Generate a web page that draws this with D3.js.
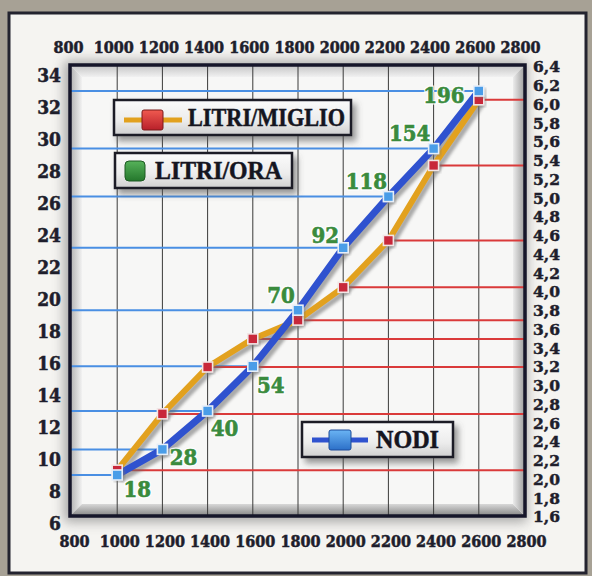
<!DOCTYPE html>
<html><head><meta charset="utf-8">
<script src="https://cdn.jsdelivr.net/npm/d3@7"></script>
<style>
html,body{margin:0;padding:0;background:#a7a195;}
svg{display:block;}
.tick text{font-family:"DejaVu Serif Condensed","DejaVu Serif",serif;font-stretch:condensed;font-weight:bold;fill:#1e1e2c;stroke:#1e1e2c;stroke-width:0.5px;}
.rax .tick text{font-family:"DejaVu Serif",serif;font-stretch:normal;}
</style></head><body>
<svg id="chart" width="592" height="576"></svg>
<script>
// ---- data ----
const rpm = [1000, 1200, 1400, 1600, 1800, 2000, 2200, 2400, 2600];
const nodi = [9.0, 10.6, 13.0, 15.8, 19.3, 23.2, 26.4, 29.4, 33.0];
const litriMiglio = [2.1, 2.7, 3.2, 3.5, 3.7, 4.05, 4.55, 5.35, 6.05];
const litriOra = [18, 28, 40, 54, 70, 92, 118, 154, 196];
const rpmTicks = [800, 1000, 1200, 1400, 1600, 1800, 2000, 2200, 2400, 2600, 2800];
const nodiTicks = [6, 8, 10, 12, 14, 16, 18, 20, 22, 24, 26, 28, 30, 32, 34];
const miglioTicks = [1.6, 1.8, 2.0, 2.2, 2.4, 2.6, 2.8, 3.0, 3.2, 3.4, 3.6, 3.8, 4.0, 4.2, 4.4, 4.6, 4.8, 5.0, 5.2, 5.4, 5.6, 5.8, 6.0, 6.2, 6.4];
const legendLabels = ["LITRI/MIGLIO", "LITRI/ORA", "NODI"];

// ---- layout ----
const oraLabelOffset = [[20,14],[21,8],[17,17],[18,19],[-17,-15],[-18,-13],[-22,-16],[-24,-16],[-35,4]];

const svg = d3.select("#chart");
const defs = svg.append("defs");

const x = d3.scaleLinear().domain([800, 2800]).range([72, 524]);
const yL = d3.scaleLinear().domain([6, 34]).range([523, 75]);
const yR = d3.scaleLinear().domain([1.6, 6.4]).range([517, 67]);

// filters
const f1 = defs.append("filter").attr("id","blur6").attr("x","-20%").attr("y","-20%").attr("width","140%").attr("height","140%");
f1.append("feGaussianBlur").attr("stdDeviation", 6);
const f2 = defs.append("filter").attr("id","blur2").attr("x","-10%").attr("y","-10%").attr("width","120%").attr("height","120%");
f2.append("feGaussianBlur").attr("stdDeviation", 1.6);
const f3 = defs.append("filter").attr("id","drop").attr("x","-20%").attr("y","-30%").attr("width","150%").attr("height","180%");
f3.append("feDropShadow").attr("dx",4).attr("dy",5).attr("stdDeviation",3).attr("flood-color","#555").attr("flood-opacity",0.6);

function lin(id, x1, y1, x2, y2, stops) {
  const g = defs.append("linearGradient").attr("id", id)
    .attr("x1", x1).attr("y1", y1).attr("x2", x2).attr("y2", y2);
  stops.forEach(s => g.append("stop").attr("offset", s[0]).attr("stop-color", s[1]));
}
lin("gTop", 0,0,0,1, [[0,"#c4c4c4"],[1,"#f1f1f1"]]);
lin("gLeft", 0,0,1,0, [[0,"#b0b0b0"],[1,"#f2f2f2"]]);
lin("gBottom", 0,0,0,1, [[0,"#d8d8d8"],[1,"#848484"]]);
lin("gRight", 0,0,1,0, [[0,"#ececec"],[1,"#9a9a9a"]]);
lin("gBox", 0,0,0,1, [[0,"#fbfbfb"],[0.6,"#ececec"],[1,"#cfcfcf"]]);
lin("gRed", 0,0,0,1, [[0,"#f05a50"],[1,"#b8202a"]]);
lin("gGreen", 0,0,0,1, [[0,"#56b25a"],[1,"#24772c"]]);
lin("gBlue", 0,0,0,1, [[0,"#6ab4f4"],[1,"#2c70c8"]]);

// card
svg.append("rect").attr("x", 9).attr("y", 13).attr("width", 577).attr("height", 560)
  .attr("fill", "#f5f4f1").attr("stroke", "#23232f").attr("stroke-width", 3);

// frame geometry
const fx0 = x(800) - 2, fx1 = x(2800) + 1, fy0 = yR(6.4) - 2, fy1 = yR(1.6) - 1;
const b = 12;

// outer shadow around frame
svg.append("rect").attr("x", fx0 - 6).attr("y", fy0 - 4).attr("width", fx1 - fx0 + 8).attr("height", fy1 - fy0 + 10)
  .attr("fill", "#8d8d8d").attr("opacity", 0.75).attr("filter", "url(#blur6)");

// plot background
svg.append("rect").attr("x", fx0).attr("y", fy0).attr("width", fx1 - fx0).attr("height", fy1 - fy0).attr("fill", "#f7f7f6");

// bevel
const poly = (pts, fill) => svg.append("polygon").attr("points", pts.map(p => p.join(",")).join(" ")).attr("fill", fill);
poly([[fx0,fy0],[fx1,fy0],[fx1-b,fy0+b],[fx0+b,fy0+b]], "url(#gTop)");
poly([[fx0,fy0],[fx0+b,fy0+b],[fx0+b,fy1-b],[fx0,fy1]], "url(#gLeft)");
poly([[fx0,fy1],[fx0+b,fy1-b],[fx1-b,fy1-b],[fx1,fy1]], "url(#gBottom)");
poly([[fx1,fy0],[fx1-b,fy0+b],[fx1-b,fy1-b],[fx1,fy1]], "url(#gRight)");

// vertical gridlines
svg.append("g").selectAll("line").data(rpm).join("line")
  .attr("x1", d => x(d)).attr("x2", d => x(d)).attr("y1", fy0).attr("y2", fy1)
  .attr("stroke", "#3a3a3a").attr("stroke-width", 1);

// blue horizontal lines (NODI)
svg.append("g").selectAll("line").data(rpm).join("line")
  .attr("x1", fx0).attr("x2", (d, i) => x(d)).attr("y1", (d, i) => yL(nodi[i])).attr("y2", (d, i) => yL(nodi[i]))
  .attr("stroke", "#4a8fe3").attr("stroke-width", 2);

// red horizontal lines (LITRI/MIGLIO)
svg.append("g").selectAll("line").data(rpm).join("line")
  .attr("x1", d => x(d)).attr("x2", fx1).attr("y1", (d, i) => yR(litriMiglio[i])).attr("y2", (d, i) => yR(litriMiglio[i]))
  .attr("stroke", "#da3a3a").attr("stroke-width", 2);

// frame border
svg.append("rect").attr("x", fx0).attr("y", fy0).attr("width", fx1 - fx0).attr("height", fy1 - fy0)
  .attr("fill", "none").attr("stroke", "#16162a").attr("stroke-width", 3.5);

// series lines
const lineM = d3.line().x((d, i) => x(rpm[i])).y(d => yR(d));
const lineN = d3.line().x((d, i) => x(rpm[i])).y(d => yL(d));
[[lineM(litriMiglio), 6], [lineN(nodi), 7]].forEach(([p, w]) => {
  svg.append("path").attr("d", p).attr("fill", "none").attr("stroke", "#6a6a6a").attr("stroke-width", w)
    .attr("opacity", 0.55).attr("transform", "translate(3,4)").attr("filter", "url(#blur2)").attr("stroke-linejoin", "round");
});
svg.append("path").attr("d", lineM(litriMiglio)).attr("fill", "none").attr("stroke", "#e2a11e").attr("stroke-width", 6).attr("stroke-linejoin", "round");
svg.append("path").attr("d", lineN(nodi)).attr("fill", "none").attr("stroke", "#2f52cf").attr("stroke-width", 7).attr("stroke-linejoin", "round");

// markers
function markers(vals, scale, fill, stroke, s) {
  const g = svg.append("g");
  g.selectAll("rect.sh").data(vals).join("rect").attr("class","sh")
    .attr("x", (d, i) => x(rpm[i]) - s/2 + 2).attr("y", d => scale(d) - s/2 + 2).attr("width", s).attr("height", s)
    .attr("fill", "#777").attr("opacity", 0.5).attr("filter", "url(#blur2)");
  g.selectAll("rect.m").data(vals).join("rect").attr("class","m")
    .attr("x", (d, i) => x(rpm[i]) - s/2).attr("y", d => scale(d) - s/2).attr("width", s).attr("height", s)
    .attr("fill", fill).attr("stroke", stroke).attr("stroke-width", 1.6);
}
markers(litriMiglio, yR, "#c8283a", "#f2e6e6", 10);
markers(nodi, yL, "#4a9de8", "#e6eef8", 10);

// LITRI/ORA value labels
const oraG = svg.append("g")
  .attr("font-family", '"DejaVu Serif Condensed","DejaVu Serif",serif').attr("font-stretch", "condensed")
  .attr("font-weight", "bold").attr("font-size", 22).attr("text-anchor", "middle");
oraG.selectAll("text.halo").data(litriOra).join("text").attr("class", "halo")
  .attr("x", (d, i) => x(rpm[i]) + oraLabelOffset[i][0])
  .attr("y", (d, i) => yL(nodi[i]) + oraLabelOffset[i][1])
  .attr("dominant-baseline", "central")
  .attr("fill", "none").attr("stroke", "rgba(255,255,255,0.9)").attr("stroke-width", 3)
  .text(d => d);
oraG.selectAll("text.v").data(litriOra).join("text").attr("class", "v")
  .attr("x", (d, i) => x(rpm[i]) + oraLabelOffset[i][0])
  .attr("y", (d, i) => yL(nodi[i]) + oraLabelOffset[i][1])
  .attr("dominant-baseline", "central")
  .attr("fill", "#3a8b3d").attr("stroke", "#3a8b3d").attr("stroke-width", 0.6)
  .text(d => d);

// axes
const fmtR = d => d.toFixed(1).replace(".", ",");
const axL = svg.append("g").attr("transform", "translate(61,0)")
  .call(d3.axisLeft(yL).tickValues(nodiTicks).tickSize(0).tickPadding(0));
axL.selectAll("text").attr("font-size", 19);
const axR = svg.append("g").attr("class", "rax").attr("transform", "translate(533,0)")
  .call(d3.axisRight(yR).tickValues(miglioTicks).tickFormat(fmtR).tickSize(0).tickPadding(0));
axR.selectAll("text").attr("font-size", 15.5);
const axT = svg.append("g").attr("transform", "translate(-4,53)")
  .call(d3.axisTop(x).tickValues(rpmTicks).tickSize(0).tickPadding(0).tickFormat(d3.format("d")));
axT.selectAll("text").attr("font-size", 16);
const axB = svg.append("g").attr("transform", "translate(2,536)")
  .call(d3.axisBottom(x).tickValues(rpmTicks).tickSize(0).tickPadding(0).tickFormat(d3.format("d")));
axB.selectAll("text").attr("font-size", 16);
svg.selectAll(".domain").remove();

// legends
function legendBox(bx, by, bw, bh, label, textX, textLen, drawIcon) {
  const g = svg.append("g");
  g.append("rect").attr("x", bx).attr("y", by).attr("width", bw).attr("height", bh)
    .attr("fill", "url(#gBox)").attr("stroke", "#1a1a28").attr("stroke-width", 2.5).attr("filter", "url(#drop)");
  drawIcon(g);
  g.append("text").attr("x", textX).attr("y", by + bh/2 + 8.5)
    .attr("font-family", '"Liberation Serif","Times New Roman",serif').attr("font-weight", "bold")
    .attr("font-size", 25).attr("fill", "#15151f").attr("stroke", "#15151f").attr("stroke-width", 0.5)
    .attr("textLength", textLen).attr("lengthAdjust", "spacingAndGlyphs").text(label);
}
legendBox(114, 100, 237, 35, legendLabels[0], 188, 157, g => {
  g.append("line").attr("x1", 124).attr("x2", 182).attr("y1", 120).attr("y2", 120).attr("stroke", "#e2a11e").attr("stroke-width", 5);
  g.append("rect").attr("x", 142).attr("y", 110).attr("width", 21).attr("height", 20).attr("rx", 2)
    .attr("fill", "url(#gRed)").attr("stroke", "#7a1a1a").attr("stroke-width", 1);
});
legendBox(115, 153, 177, 35, legendLabels[1], 155, 127, g => {
  g.append("rect").attr("x", 125).attr("y", 161).attr("width", 20).attr("height", 20).attr("rx", 4)
    .attr("fill", "url(#gGreen)").attr("stroke", "#1d5a22").attr("stroke-width", 1);
});
legendBox(302, 422, 151, 35, legendLabels[2], 376, 63, g => {
  g.append("line").attr("x1", 312).attr("x2", 368).attr("y1", 440).attr("y2", 440).attr("stroke", "#2f52cf").attr("stroke-width", 5);
  g.append("rect").attr("x", 329).attr("y", 430).attr("width", 22).attr("height", 20).attr("rx", 2)
    .attr("fill", "url(#gBlue)").attr("stroke", "#1c4a9a").attr("stroke-width", 1);
});
</script>
</body></html>
